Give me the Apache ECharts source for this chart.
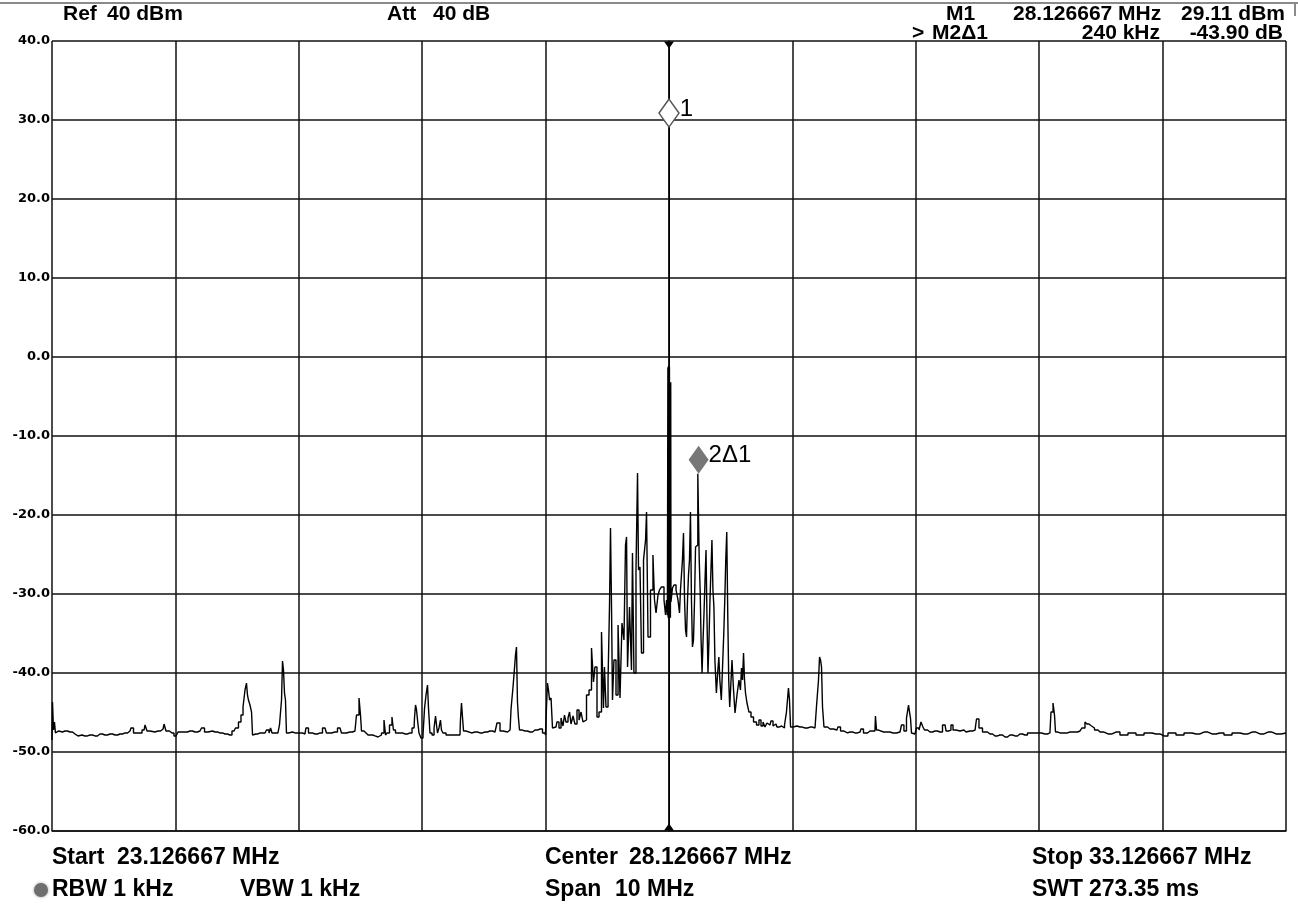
<!DOCTYPE html>
<html><head><meta charset="utf-8">
<script src="https://cdn.jsdelivr.net/npm/echarts@6/dist/echarts.min.js"></script>
<style>html,body{margin:0;padding:0;background:#fff}#c{width:1298px;height:907px}</style>
</head><body><div id="c"></div>
<script>
// ---- data ----
const centerMHz = 28.126667;
const spanMHz = 10;
const offsetRangeMHz = [-5, 5];          // frequency offset from center (MHz)
const levelRange = [-60, 40];            // dBm
const levelStep = 10;
// trace: [frequency offset from center (MHz), level (dBm)]
const trace = [
[-5.000,-48.48],[-4.992,-43.67],[-4.984,-47.22],[-4.976,-46.20],[-4.968,-47.59],[-4.959,-47.34],[-4.935,-47.47],[-4.895,-47.34],
[-4.854,-47.47],[-4.814,-47.72],[-4.789,-47.97],[-4.757,-47.85],[-4.733,-47.97],[-4.692,-47.85],[-4.652,-47.97],[-4.611,-47.72],
[-4.571,-47.85],[-4.530,-47.72],[-4.489,-47.85],[-4.449,-47.72],[-4.408,-47.59],[-4.368,-47.34],[-4.352,-46.96],[-4.327,-47.59],
[-4.287,-47.59],[-4.254,-47.22],[-4.238,-46.58],[-4.222,-47.34],[-4.190,-47.47],[-4.141,-47.34],[-4.100,-47.09],[-4.084,-46.46],
[-4.068,-47.34],[-4.028,-47.59],[-3.995,-47.97],[-3.963,-47.47],[-3.922,-47.47],[-3.882,-47.34],[-3.841,-47.47],[-3.801,-47.34],
[-3.776,-46.96],[-3.752,-47.47],[-3.720,-47.34],[-3.679,-47.47],[-3.639,-47.59],[-3.598,-47.72],[-3.558,-47.85],[-3.525,-47.34],
[-3.501,-46.96],[-3.477,-46.20],[-3.460,-45.32],[-3.444,-44.30],[-3.428,-42.15],[-3.420,-41.27],[-3.412,-42.78],[-3.404,-43.42],
[-3.387,-44.05],[-3.379,-44.94],[-3.371,-47.85],[-3.347,-47.72],[-3.314,-47.59],[-3.274,-47.59],[-3.250,-47.22],[-3.233,-47.59],
[-3.225,-46.96],[-3.209,-47.59],[-3.169,-47.59],[-3.144,-46.58],[-3.136,-43.42],[-3.128,-38.48],[-3.120,-39.62],[-3.112,-42.53],
[-3.104,-43.42],[-3.096,-47.59],[-3.071,-47.47],[-3.031,-47.59],[-2.990,-47.59],[-2.950,-47.72],[-2.934,-46.96],[-2.909,-47.59],
[-2.869,-47.72],[-2.828,-47.59],[-2.788,-46.96],[-2.763,-47.59],[-2.707,-47.47],[-2.666,-46.96],[-2.642,-47.59],[-2.585,-47.47],
[-2.545,-47.34],[-2.520,-45.32],[-2.504,-43.16],[-2.496,-45.32],[-2.488,-47.34],[-2.455,-47.59],[-2.423,-47.85],[-2.382,-47.97],
[-2.358,-48.10],[-2.342,-47.85],[-2.318,-47.59],[-2.301,-45.95],[-2.293,-47.85],[-2.277,-47.59],[-2.253,-46.58],[-2.237,-45.57],
[-2.229,-47.22],[-2.204,-47.59],[-2.180,-47.59],[-2.139,-47.72],[-2.099,-47.59],[-2.066,-46.96],[-2.058,-45.57],[-2.050,-44.05],
[-2.042,-44.68],[-2.034,-45.95],[-2.018,-47.59],[-2.002,-48.23],[-1.985,-47.85],[-1.977,-44.43],[-1.961,-42.78],[-1.953,-41.52],
[-1.945,-44.43],[-1.929,-47.59],[-1.912,-47.85],[-1.896,-46.96],[-1.888,-45.44],[-1.880,-46.58],[-1.872,-47.59],[-1.856,-46.96],
[-1.848,-45.95],[-1.840,-47.22],[-1.823,-47.59],[-1.791,-47.85],[-1.734,-47.85],[-1.694,-47.85],[-1.686,-45.95],[-1.677,-43.80],
[-1.669,-45.70],[-1.661,-47.34],[-1.629,-47.59],[-1.572,-47.47],[-1.532,-47.59],[-1.491,-47.47],[-1.451,-47.34],[-1.410,-47.47],
[-1.378,-46.33],[-1.361,-47.34],[-1.329,-47.47],[-1.288,-47.22],[-1.272,-44.56],[-1.256,-41.77],[-1.248,-39.37],[-1.240,-37.72],
[-1.232,-36.71],[-1.224,-43.67],[-1.216,-45.70],[-1.207,-47.22],[-1.167,-47.34],[-1.126,-47.47],[-1.086,-47.22],[-1.045,-47.09],
[-1.005,-47.59],[-0.997,-47.85],[-0.989,-44.43],[-0.981,-41.27],[-0.972,-42.15],[-0.964,-43.42],[-0.948,-43.16],[-0.940,-46.96],
[-0.916,-46.84],[-0.900,-46.20],[-0.883,-46.96],[-0.867,-45.70],[-0.851,-46.71],[-0.843,-45.32],[-0.827,-46.20],[-0.810,-45.70],
[-0.802,-44.94],[-0.786,-46.46],[-0.770,-45.44],[-0.754,-46.46],[-0.737,-44.68],[-0.721,-45.95],[-0.705,-44.94],[-0.689,-46.20],
[-0.681,-45.95],[-0.656,-42.78],[-0.640,-42.15],[-0.616,-36.84],[-0.608,-41.14],[-0.592,-39.24],[-0.575,-45.57],[-0.559,-44.94],
[-0.535,-34.81],[-0.527,-44.43],[-0.519,-39.24],[-0.502,-44.30],[-0.486,-40.89],[-0.478,-31.39],[-0.470,-21.65],[-0.462,-31.39],
[-0.454,-43.42],[-0.438,-38.35],[-0.421,-42.78],[-0.405,-33.92],[-0.389,-43.16],[-0.373,-33.67],[-0.357,-35.82],[-0.348,-23.80],
[-0.340,-22.78],[-0.332,-39.24],[-0.308,-31.65],[-0.300,-39.62],[-0.292,-24.81],[-0.276,-40.00],[-0.259,-26.96],[-0.251,-14.68],
[-0.243,-26.96],[-0.227,-26.58],[-0.219,-37.47],[-0.194,-25.70],[-0.186,-23.16],[-0.178,-19.62],[-0.162,-35.44],[-0.138,-29.49],
[-0.122,-25.06],[-0.113,-30.76],[-0.097,-32.41],[-0.081,-30.13],[-0.073,-29.49],[-0.049,-29.11],[-0.032,-30.76],[-0.024,-32.66],
[-0.016,-30.76],[-0.010,-32.70],[-0.008,-1.30],[-0.005,-33.00],[-0.002,-1.10],[0.000,-1.00],[0.002,-33.20],[0.005,-1.20],
[0.008,-33.00],[0.010,-3.20],[0.013,-33.00],[0.015,-3.20],[0.017,-31.00],[0.024,-30.76],[0.032,-29.24],[0.049,-28.86],
[0.065,-29.49],[0.081,-30.76],[0.089,-32.41],[0.097,-29.49],
[0.105,-27.59],[0.113,-25.70],[0.122,-22.28],[0.130,-30.76],[0.138,-34.56],[0.146,-35.44],[0.154,-30.76],[0.162,-27.59],
[0.170,-25.70],[0.178,-19.62],[0.186,-30.76],[0.194,-36.71],[0.203,-35.82],[0.211,-30.76],[0.219,-24.05],[0.227,-23.80],
[0.240,-14.79],[0.250,-25.70],[0.256,-29.87],[0.264,-35.82],[0.272,-40.00],[0.280,-35.82],[0.288,-32.28],[0.296,-28.23],
[0.304,-24.43],[0.312,-33.29],[0.320,-40.00],[0.328,-35.82],[0.336,-30.76],[0.344,-26.96],[0.352,-23.16],[0.360,-29.49],
[0.368,-31.65],[0.376,-38.35],[0.392,-42.53],[0.400,-39.62],[0.408,-37.97],[0.416,-40.89],[0.432,-43.42],[0.440,-38.35],
[0.448,-34.94],[0.456,-30.76],[0.464,-25.70],[0.472,-22.15],[0.480,-32.41],[0.488,-40.89],[0.496,-44.30],[0.502,-42.15],
[0.519,-38.35],[0.527,-42.15],[0.543,-45.06],[0.559,-42.78],[0.575,-40.89],[0.583,-42.15],[0.592,-39.37],[0.600,-40.89],
[0.608,-37.47],[0.616,-40.89],[0.624,-42.53],[0.640,-43.80],[0.656,-44.94],[0.673,-45.57],[0.697,-46.20],[0.721,-46.58],
[0.737,-45.95],[0.754,-46.71],[0.770,-46.20],[0.786,-46.84],[0.802,-46.33],[0.818,-46.58],[0.835,-46.08],[0.851,-46.71],
[0.867,-46.46],[0.883,-46.84],[0.900,-46.71],[0.924,-46.96],[0.948,-46.58],[0.956,-44.94],[0.964,-43.42],[0.972,-41.90],
[0.981,-43.42],[0.989,-46.84],[1.005,-46.84],[1.037,-46.71],[1.062,-46.84],[1.102,-46.96],[1.143,-46.84],[1.183,-46.96],
[1.207,-44.30],[1.216,-40.89],[1.224,-37.97],[1.232,-38.35],[1.240,-39.24],[1.248,-44.30],[1.264,-46.84],[1.305,-47.09],
[1.361,-47.22],[1.378,-46.84],[1.402,-47.34],[1.426,-47.59],[1.467,-47.47],[1.507,-47.59],[1.548,-47.47],[1.564,-47.09],
[1.588,-47.59],[1.629,-47.34],[1.669,-47.34],[1.677,-45.44],[1.686,-47.22],[1.710,-47.47],[1.767,-47.47],[1.815,-47.59],
[1.872,-47.47],[1.896,-46.58],[1.912,-47.34],[1.937,-45.70],[1.945,-44.05],[1.953,-44.94],[1.961,-45.70],[1.969,-47.59],
[1.993,-47.72],[2.018,-46.96],[2.034,-47.22],[2.050,-46.20],[2.066,-46.84],[2.075,-47.22],[2.115,-47.47],[2.156,-47.34],
[2.196,-47.47],[2.237,-46.58],[2.253,-47.34],[2.277,-47.22],[2.293,-46.58],[2.310,-47.22],[2.342,-47.34],[2.374,-47.22],
[2.407,-47.47],[2.439,-47.34],[2.480,-47.22],[2.504,-45.82],[2.520,-46.96],[2.561,-47.47],[2.601,-47.72],[2.642,-47.97],
[2.682,-47.85],[2.723,-48.10],[2.763,-47.85],[2.804,-47.97],[2.844,-47.72],[2.885,-47.85],[2.925,-47.59],[2.990,-47.59],
[3.047,-47.72],[3.087,-47.59],[3.104,-44.94],[3.120,-43.80],[3.128,-45.32],[3.136,-47.47],[3.169,-47.59],[3.209,-47.59],
[3.250,-47.47],[3.290,-47.47],[3.331,-47.34],[3.363,-46.96],[3.379,-46.20],[3.395,-46.46],[3.412,-46.71],[3.436,-46.96],
[3.460,-47.22],[3.493,-47.47],[3.558,-47.72],[3.622,-47.47],[3.687,-47.85],[3.752,-47.59],[3.817,-47.85],[3.882,-47.59],
[3.946,-47.72],[4.011,-47.97],[4.076,-47.59],[4.141,-47.85],[4.206,-47.59],[4.271,-47.72],[4.335,-47.47],[4.400,-47.72],
[4.465,-47.59],[4.530,-47.85],[4.595,-47.59],[4.660,-47.72],[4.724,-47.47],[4.789,-47.72],[4.854,-47.47],[4.919,-47.72],
[5.000,-47.59]
];
// markers: [frequency offset (MHz), level (dBm), label]
const marker1 = [0, 29.11, '1'];
const marker2 = [0.24, -14.79, '2\u03941'];
// header / footer texts
const headerTexts = ['Ref', '40 dBm', 'Att', '40 dB'];
const markerTable = [['M1', '28.126667 MHz', '29.11 dBm'], ['M2\u03941', '240 kHz', '-43.90 dB']];
const footerTexts = [['Start', '23.126667 MHz'], ['Center', '28.126667 MHz'], ['Stop', '33.126667 MHz'],
                     ['RBW 1 kHz', 'VBW 1 kHz'], ['Span', '10 MHz'], ['SWT', '273.35 ms']];

// ---- chart ----
const FONT = '"Liberation Sans", Arial, sans-serif';
const chart = echarts.init(document.getElementById('c'), null, {renderer: 'canvas'});
function txt(x, y, s, size, align, weight) {
  return {type: 'text', x: x, y: y, style: {text: s, fill: '#000', font: (weight || 'bold') + ' ' + size + 'px ' + FONT,
    textAlign: align || 'left', textVerticalAlign: 'middle'}, z: 10};
}
const HS = 21, FS = 23;
const graphics = [
  {type: 'line', shape: {x1: 0, y1: 3, x2: 1298, y2: 3}, style: {stroke: '#8a8a8a', lineWidth: 2}},
  {type: 'line', shape: {x1: 1295, y1: 3, x2: 1295, y2: 16}, style: {stroke: '#8a8a8a', lineWidth: 2}},
  txt(63, 14, headerTexts[0], HS), txt(107, 14, headerTexts[1], HS),
  txt(387, 14, headerTexts[2], HS), txt(433, 14, headerTexts[3], HS),
  txt(946, 14, markerTable[0][0], HS), txt(1013, 14, markerTable[0][1], HS), txt(1285, 14, markerTable[0][2], HS, 'right'),
  txt(912, 33, '>', HS), txt(932, 33, markerTable[1][0], HS), txt(1160, 33, markerTable[1][1], HS, 'right'), txt(1283, 33, markerTable[1][2], HS, 'right'),
  txt(52, 858, footerTexts[0][0], FS), txt(117, 858, footerTexts[0][1], FS),
  txt(545, 858, footerTexts[1][0], FS), txt(629, 858, footerTexts[1][1], FS),
  txt(1032, 858, footerTexts[2][0], FS), txt(1089, 858, footerTexts[2][1], FS),
  txt(52, 890, footerTexts[3][0], FS), txt(240, 890, footerTexts[3][1], FS),
  txt(545, 890, footerTexts[4][0], FS), txt(615, 890, footerTexts[4][1], FS),
  txt(1032, 890, footerTexts[5][0], FS), txt(1089, 890, footerTexts[5][1], FS),
  {type: 'circle', shape: {cx: 41, cy: 890, r: 7}, style: {fill: '#6e6e6e', shadowBlur: 3, shadowColor: '#999'}}
];

chart.setOption({
  animation: false,
  backgroundColor: '#fff',
  grid: {left: 52, top: 41, width: 1234, height: 790, containLabel: false},
  xAxis: {
    type: 'value', min: offsetRangeMHz[0], max: offsetRangeMHz[1], interval: 1,
    axisLine: {show: true, onZero: false, lineStyle: {color: '#111', width: 1.5}},
    axisTick: {show: false}, axisLabel: {show: false},
    splitLine: {show: true, lineStyle: {color: '#111', width: 1.5}}
  },
  yAxis: {
    type: 'value', min: levelRange[0], max: levelRange[1], interval: levelStep,
    axisLine: {show: true, lineStyle: {color: '#111', width: 1.5}},
    axisTick: {show: false},
    axisLabel: {show: true, color: '#000', fontFamily: '"DejaVu Sans", sans-serif', fontWeight: 'bold', fontSize: 13, margin: 2,
      formatter: v => v.toFixed(1)},
    splitLine: {show: true, lineStyle: {color: '#111', width: 1.5}}
  },
  series: [{
    type: 'line', data: trace, showSymbol: false, symbol: 'none', step: 'middle',
    lineStyle: {color: '#000', width: 1.4}, z: 5,
    markLine: {
      silent: true, symbol: ['none', 'none'], label: {show: false},
      lineStyle: {color: '#000', width: 1, type: 'solid'},
      data: [{xAxis: marker1[0]}]
    },
    markPoint: {
      silent: true,
      data: [
        {coord: [marker1[0], levelRange[1]], symbol: 'triangle', symbolSize: [10, 7], symbolRotate: 180, symbolOffset: [0, 4],
          itemStyle: {color: '#000'}, label: {show: false}},
        {coord: [marker1[0], levelRange[0]], symbol: 'triangle', symbolSize: [10, 7], symbolOffset: [0, -4],
          itemStyle: {color: '#000'}, label: {show: false}},
        {coord: [marker1[0], marker1[1]], symbol: 'diamond', symbolSize: [20, 28], symbolOffset: [0, -14],
          itemStyle: {color: '#fff', borderColor: '#555', borderWidth: 1.5},
          label: {show: true, position: 'right', distance: 0, offset: [0, -4], formatter: marker1[2], color: '#000', fontSize: 24, fontFamily: FONT}},
        {coord: [marker2[0], marker2[1]], symbol: 'diamond', symbolSize: [20, 28], symbolOffset: [0, -14],
          itemStyle: {color: '#777'},
          label: {show: true, position: 'right', distance: 0, offset: [0, -4], formatter: marker2[2], color: '#000', fontSize: 24, fontFamily: FONT}}
      ]
    }
  }],
  graphic: graphics
});
</script>
</body></html>
